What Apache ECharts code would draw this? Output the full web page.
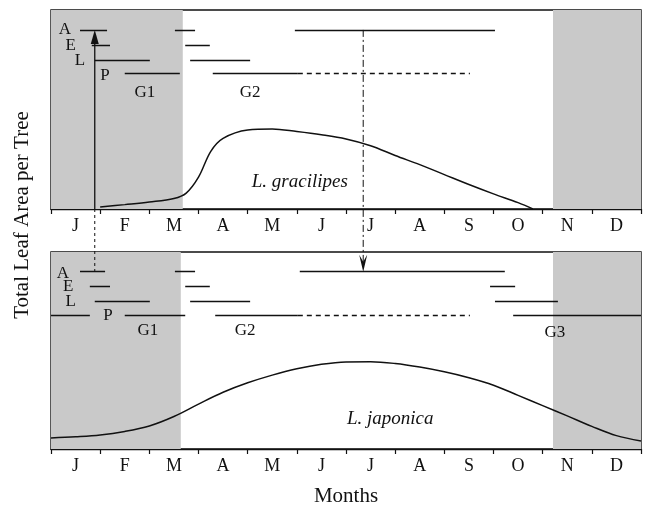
<!DOCTYPE html>
<html><head><meta charset="utf-8">
<script src="https://cdn.jsdelivr.net/npm/echarts@6/dist/echarts.min.js"></script>
<style>html,body{margin:0;padding:0;background:#fff}#c{width:645px;height:509px}</style>
</head><body><div id="c"></div>
<script>
// ---- data ----
const monthNames = ['Jan','Feb','Mar','Apr','May','Jun','Jul','Aug','Sep','Oct','Nov','Dec'];
const monthLabels = ['J','F','M','A','M','J','J','A','S','O','N','D'];
// shaded (leafless / winter) periods, in months from 1 Jan
const shadeTop = [[0, 2.68], [10.21, 12]];
const shadeBottom = [[0, 2.64], [10.21, 12]];
// phenology row levels (A, E, L, P)
const rowLevel = {A: 90, E: 82.5, L: 75, P: 68};
// top panel (L. gracilipes) segments [start, end] in months
const topA = [[0.59, 1.14], [2.52, 2.93], [4.96, 9.03]];
const topE = [[0.83, 1.20], [2.73, 3.23]];
const topL = [[0.89, 2.01], [2.83, 4.05]];
const topP = [[1.50, 2.62], [3.29, 5.02]];
const topPdashed = [[5.02, 8.52]];
// bottom panel (L. japonica) segments
const botA = [[0.59, 1.10], [2.52, 2.93], [5.06, 9.23]];
const botE = [[0.79, 1.20], [2.73, 3.23], [8.93, 9.44]];
const botL = [[0.89, 2.01], [2.83, 4.05], [9.03, 10.31]];
const botP = [[0, 0.79], [1.50, 2.73], [3.34, 5.02], [9.40, 12]];
const botPdashed = [[5.02, 8.52]];
// total leaf area curves [month, relative value]
const gracilipes = [[1.0,1],[1.5,2.2],[2.0,3.5],[2.5,5.3],[2.75,8],[3.0,16],[3.25,29],[3.5,35.5],[4.0,39.7],[4.5,40.2],[5.0,38.9],[5.5,37.3],[6.0,35.2],[6.5,31.8],[7.0,26.9],[7.5,22.3],[8.0,17.3],[8.5,12.3],[9.0,7.6],[9.5,3.2],[9.8,0]];
const japonica = [[0,5.6],[0.5,6.2],[1.0,7.1],[1.5,8.9],[2.0,11.7],[2.5,16.5],[3.0,22.8],[3.5,28.8],[4.0,33.6],[4.5,37.5],[5.0,40.7],[5.5,43.0],[6.0,44.2],[6.5,44.3],[7.0,43.4],[7.5,41.6],[8.0,39.2],[8.5,36.2],[9.0,32.4],[9.5,27.2],[10.0,22.0],[10.5,16.8],[11.0,11.5],[11.5,6.8],[12.0,4.1]];
// text labels [text, month, level]
const topLabels = [['A',0.28,90],['E',0.40,82],['L',0.59,74.5],['P',1.10,67],['G1',1.91,58.5],['G2',4.05,58.5]];
const botLabels = [['A',0.24,89],['E',0.35,82.5],['L',0.40,75],['P',1.16,68],['G1',1.97,60],['G2',3.95,60],['G3',10.25,59]];
const speciesTop = ['L. gracilipes', 5.06, 13.5];
const speciesBot = ['L. japonica', 6.9, 15];
// arrows (month positions)
const arrow1X = 0.89;
const arrow2X = 6.35;

const FONT = 'Liberation Serif';
const INK = '#111';

function segSeries(segs, level, grid, dashed) {
  return {
    type: 'lines', coordinateSystem: 'cartesian2d', xAxisIndex: grid*2, yAxisIndex: grid,
    polyline: false, silent: true,
    lineStyle: {color: INK, width: 1.4, type: dashed ? [5,4] : 'solid', opacity: 1},
    data: segs.map(s => ({coords: [[s[0], level], [s[1], level]]}))
  };
}
function textSeries(labels, grid, size, italic) {
  return {
    type: 'scatter', xAxisIndex: grid*2, yAxisIndex: grid, symbolSize: 0, silent: true,
    itemStyle: {opacity: 1},
    label: {show: true, position: 'inside', formatter: p => p.name, color: INK, opacity: 1,
      fontFamily: FONT, fontSize: size, fontStyle: italic ? 'italic' : 'normal'},
    data: labels.map(l => ({name: l[0], value: [l[1], l[2]]})),
    z: 8
  };
}
function shadeSeries(shades, grid) {
  return {
    type: 'line', xAxisIndex: grid*2, yAxisIndex: grid, data: [], silent: true,
    markArea: {silent: true, itemStyle: {color: '#c9c9c9'},
      data: shades.map(s => [{xAxis: s[0]}, {xAxis: s[1]}])}
  };
}

const grids = [
  {left: 51, right: 4, top: 10, height: 199},
  {left: 51, right: 4, top: 252, height: 197}
];
const xAxes = [];
const yAxes = [];
grids.forEach((g, i) => {
  xAxes.push({type: 'value', gridIndex: i, min: 0, max: 12, show: false});
  xAxes.push({type: 'category', gridIndex: i, data: monthNames, boundaryGap: true, position: 'bottom',
    axisLine: {lineStyle: {color: INK, width: 1.4}},
    axisTick: {show: true, interval: 0, length: 5, lineStyle: {color: INK, width: 1.2}},
    axisLabel: {formatter: (v, idx) => monthLabels[idx], color: INK, fontFamily: FONT, fontSize: 18, margin: 8},
    splitLine: {show: false}});
  yAxes.push({type: 'value', gridIndex: i, min: 0, max: 100, show: false});
});
grids.forEach(g => { g.show = true; g.borderColor = INK; g.borderWidth = 1.4; g.backgroundColor = 'transparent'; });

const series = [
  shadeSeries(shadeTop, 0), shadeSeries(shadeBottom, 1),
  segSeries(topA, rowLevel.A, 0), segSeries(topE, rowLevel.E, 0), segSeries(topL, rowLevel.L, 0),
  segSeries(topP, rowLevel.P, 0), segSeries(topPdashed, rowLevel.P, 0, true),
  segSeries(botA, rowLevel.A, 1), segSeries(botE, rowLevel.E, 1), segSeries(botL, rowLevel.L, 1),
  segSeries(botP, rowLevel.P, 1), segSeries(botPdashed, rowLevel.P, 1, true),
  {type: 'line', xAxisIndex: 0, yAxisIndex: 0, data: gracilipes, smooth: 0.35, symbol: 'none',
    lineStyle: {color: INK, width: 1.5}, silent: true, z: 5},
  {type: 'line', xAxisIndex: 2, yAxisIndex: 1, data: japonica, smooth: 0.35, symbol: 'none',
    lineStyle: {color: INK, width: 1.5}, silent: true, z: 5},
  textSeries(topLabels, 0, 17), textSeries(botLabels, 1, 17),
  textSeries([speciesTop], 0, 19, true), textSeries([speciesBot], 1, 19, true)
];

const chart = echarts.init(document.getElementById('c'), null, {renderer: 'canvas'});
chart.setOption({animation: false, grid: grids, xAxis: xAxes, yAxis: yAxes, series: series});

// arrows & titles placed from axis coordinates
const p = (grid, x, y) => chart.convertToPixel({xAxisIndex: grid*2, yAxisIndex: grid}, [x, y]);
const a1top = p(0, arrow1X, rowLevel.A);
const a1axis = p(0, arrow1X, 0);
const a1bot = p(1, arrow1X, rowLevel.A);
const a2top = p(0, arrow2X, rowLevel.A);
const a2bot = p(1, arrow2X, rowLevel.A);
chart.setOption({
  graphic: [
    {type: 'text', id: 'ytitle', x: 22, y: 215, rotation: Math.PI/2, silent: true,
      style: {text: 'Total Leaf Area per Tree', fill: INK, font: '21px "' + FONT + '"', textAlign: 'center', textVerticalAlign: 'middle'}},
    {type: 'text', id: 'xtitle', x: 346, y: 496, silent: true,
      style: {text: 'Months', fill: INK, font: '21px "' + FONT + '"', textAlign: 'center', textVerticalAlign: 'middle'}},
    {type: 'line', silent: true, z: 10, shape: {x1: a1top[0], y1: a1top[1] + 4, x2: a1axis[0], y2: a1axis[1]}, style: {stroke: INK, lineWidth: 1.3}},
    {type: 'line', silent: true, z: 10, shape: {x1: a1axis[0], y1: a1axis[1], x2: a1bot[0], y2: a1bot[1]}, style: {stroke: INK, lineWidth: 1, lineDash: [3, 3]}},
    {type: 'polygon', silent: true, z: 10, shape: {points: [[a1top[0], a1top[1]], [a1top[0]-4, a1top[1]+14], [a1top[0]+4, a1top[1]+14]]}, style: {fill: INK}},
    {type: 'line', silent: true, z: 10, shape: {x1: a2top[0], y1: a2top[1], x2: a2bot[0], y2: a2bot[1] - 6}, style: {stroke: INK, lineWidth: 1, lineDash: [7, 3, 2, 3]}},
    {type: 'polygon', silent: true, z: 10, shape: {points: [[a2bot[0], a2bot[1]], [a2bot[0]-4, a2bot[1]-17], [a2bot[0], a2bot[1]-10], [a2bot[0]+4, a2bot[1]-17]]}, style: {fill: INK}}
  ]
});
</script></body></html>
